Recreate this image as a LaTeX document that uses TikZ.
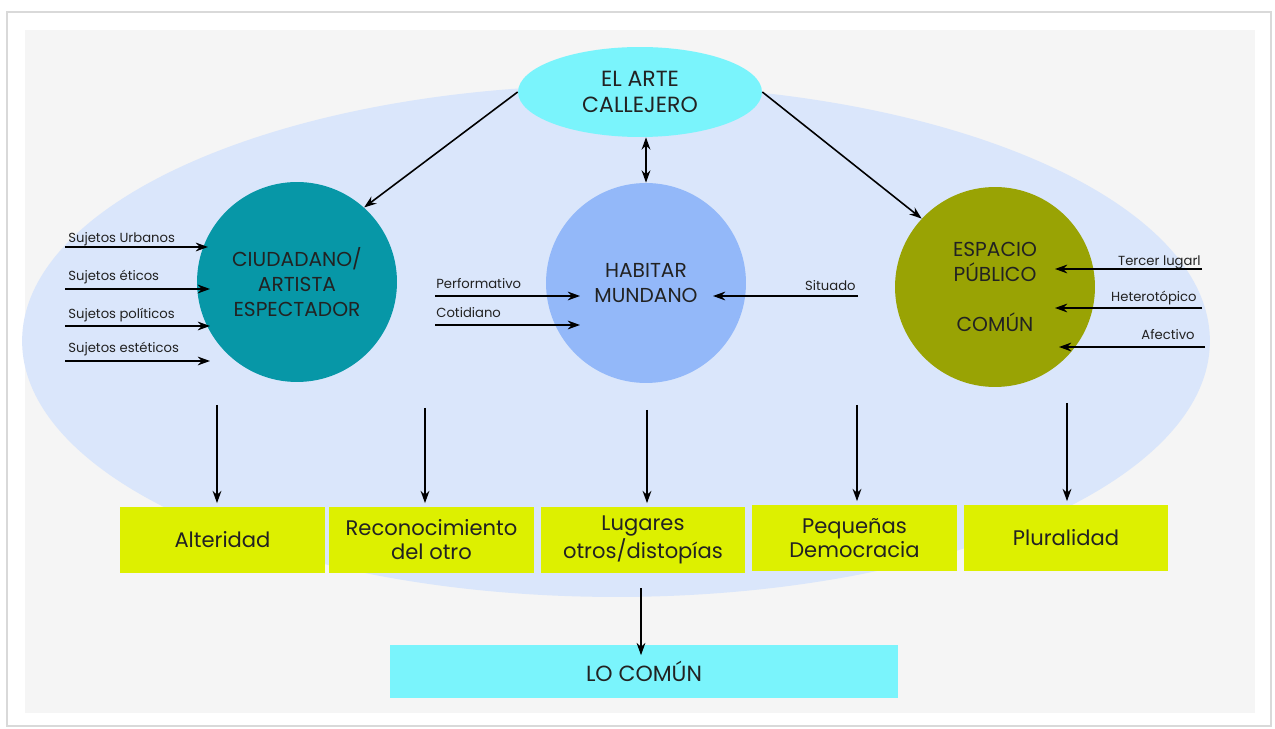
\documentclass[tikz,border=0pt]{standalone}
\usepackage{fontspec}
\setmainfont{Poppins}
\usetikzlibrary{shapes.geometric,arrows.meta}
\begin{document}
\begin{tikzpicture}[x=0.02cm,y=-0.02cm,
  arr/.style={-{Stealth[length=7pt,width=5pt]},line width=0.9pt},
  circ/.style={circle,minimum size=4cm,inner sep=0pt,align=center,text=txt,font=\fontsize{11.5}{14.2}\selectfont},
  box/.style={fill=lima,minimum width=4.1cm,minimum height=1.32cm,inner sep=2pt,align=center,text=txt,font=\fontsize{12}{13.6}\selectfont},
  lbl/.style={text=txt,inner sep=0pt,font=\fontsize{7.5}{9}\selectfont}]
\definecolor{txt}{HTML}{222222}
\definecolor{panel}{HTML}{F5F5F5}
\definecolor{bgell}{HTML}{DAE6FB}
\definecolor{cyanf}{HTML}{7AF4FC}
\definecolor{teal}{HTML}{0797A7}
\definecolor{sky}{HTML}{93B8F9}
\definecolor{olive}{HTML}{99A304}
\definecolor{lima}{HTML}{DDF000}
\useasboundingbox (0,0) rectangle (1275,729);
% page and panel
\fill[white] (0,0) rectangle (1275,729);
\draw[gray!30,line width=1.5pt] (7,12) rectangle (1271,726);
\fill[panel] (25,30) rectangle (1255,713);
\fill[bgell] (616,341) ellipse [x radius=11.88cm, y radius=5.12cm];
% main nodes
\node[ellipse,fill=cyanf,minimum width=4.88cm,minimum height=1.8cm,inner sep=0pt,align=center,text=txt,font=\fontsize{12.5}{14.7}\selectfont] (arte) at (640,92) {EL ARTE\\CALLEJERO};
\node[circ,fill=teal] (ciud) at (297,282) {CIUDADANO/\\ARTISTA\\ESPECTADOR};
\node[circ,fill=sky] (habitar) at (646,283) {HABITAR\\MUNDANO};
\node[circ,fill=olive] (espacio) at (995,287) {ESPACIO\\PÚBLICO\\ \\COMÚN};
\node[box] (alter) at (222.5,540) {Alteridad};
\node[box] (recon) at (431.5,540) {Reconocimiento\\del otro};
\node[box] (lugares) at (643,540) {Lugares\\otros/distopías};
\node[box] (pequenas) at (854.5,538) {Pequeñas\\Democracia};
\node[box] (plural) at (1066,538) {Pluralidad};
\node[fill=cyanf,minimum width=10.16cm,minimum height=1.06cm,text=txt,font=\fontsize{12.5}{14.7}\selectfont] (comun) at (644,671.5) {LO COMÚN};
% top arrows
\draw[arr] (arte.west) -- (ciud.48);
\draw[arr] (arte.east) -- (espacio.137);
\draw[{Stealth[length=7pt,width=5pt]}-{Stealth[length=7pt,width=5pt]},line width=0.9pt] (habitar.north |- arte.south) -- (habitar.north);
% left labels
\node[lbl,anchor=base west] (su1) at (68,243) {Sujetos Urbanos};
\node[lbl,anchor=base west] (su2) at (68,281) {Sujetos éticos};
\node[lbl,anchor=base west] (su3) at (68,319) {Sujetos políticos};
\node[lbl,anchor=base west] (su4) at (68,353) {Sujetos estéticos};
\coordinate (s1) at (65,247); \coordinate (t1) at (208,247);
\coordinate (s2) at (65,289); \coordinate (t2) at (210,289);
\coordinate (s3) at (65,326); \coordinate (t3) at (210,326);
\coordinate (s4) at (65,361); \coordinate (t4) at (210,361);
\draw[arr] (s1) -- (t1);
\draw[arr] (s2) -- (t2);
\draw[arr] (s3) -- (t3);
\draw[arr] (s4) -- (t4);
% middle labels
\node[lbl,anchor=base west] (perf) at (436,289) {Performativo};
\node[lbl,anchor=base west] (coti) at (436,318) {Cotidiano};
\node[lbl,anchor=base east] (situ) at (856,291) {Situado};
\coordinate (p1) at (435,296); \coordinate (q1) at (580,296);
\coordinate (p2) at (435,325); \coordinate (q2) at (580,325);
\coordinate (p3) at (858,296); \coordinate (q3) at (713,296);
\draw[arr] (p1) -- (q1);
\draw[arr] (p2) -- (q2);
\draw[arr] (p3) -- (q3);
% right labels
\node[lbl,anchor=base east] (terc) at (1201,266) {Tercer lugarl};
\node[lbl,anchor=base east] (hete) at (1197,302) {Heterotópico};
\node[lbl,anchor=base east] (afec) at (1195,340) {Afectivo};
\coordinate (r1) at (1202,269); \coordinate (u1) at (1055,269);
\coordinate (r2) at (1202,308); \coordinate (u2) at (1055,308);
\coordinate (r3) at (1205,347); \coordinate (u3) at (1059,347);
\draw[arr] (r1) -- (u1);
\draw[arr] (r2) -- (u2);
\draw[arr] (r3) -- (u3);
% down arrows
\coordinate (d1) at (217,405);
\coordinate (d2) at (425,408);
\coordinate (d3) at (647,410);
\coordinate (d4) at (857,405);
\coordinate (d5) at (1067,403);
\coordinate (d6) at (641,588);
\draw[arr,shorten >=2pt] (d1) -- (d1 |- alter.north);
\draw[arr,shorten >=2pt] (d2) -- (d2 |- recon.north);
\draw[arr,shorten >=2pt] (d3) -- (d3 |- lugares.north);
\draw[arr,shorten >=2pt] (d4) -- (d4 |- pequenas.north);
\draw[arr,shorten >=2pt] (d5) -- (d5 |- plural.north);
\draw[arr,shorten >=-6pt] (d6) -- (d6 |- comun.north);
\end{tikzpicture}
\end{document}
